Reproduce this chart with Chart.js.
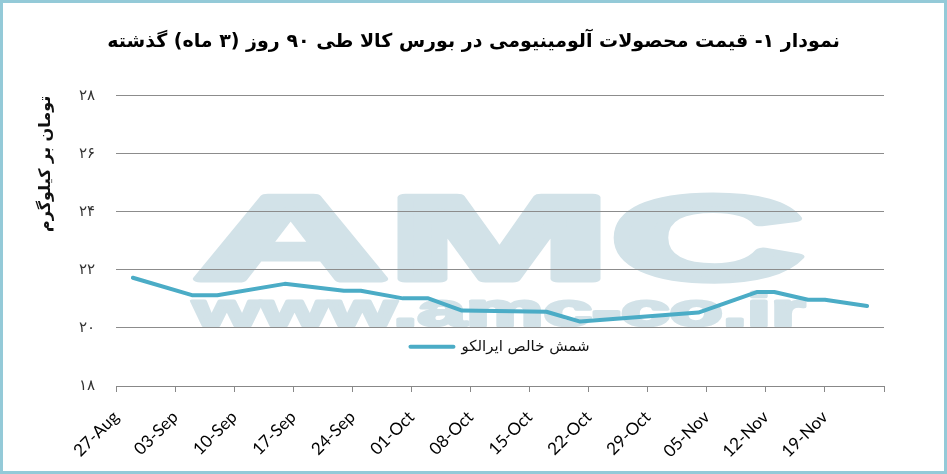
<!DOCTYPE html>
<html lang="fa">
<head>
    <meta charset="UTF-8">
    <title>قیمت محصولات آلومینیومی در بورس کالا</title>
    <script src="https://cdn.jsdelivr.net/npm/chart.js"></script>
    <style>
        html, body { margin: 0; padding: 0; background: #fff; }
        canvas { display: block; }
    </style>
</head>
<body>
    <canvas id="priceChart" width="947" height="474"></canvas>
    <script>
        // داده‌ها
        const startDate = '2018-08-27';
        const priceDates = ['2018-08-29', '2018-09-05', '2018-09-08', '2018-09-16', '2018-09-23', '2018-09-25',
            '2018-09-30', '2018-10-03', '2018-10-07', '2018-10-17', '2018-10-21', '2018-11-04',
            '2018-11-11', '2018-11-13', '2018-11-17', '2018-11-19', '2018-11-24'];
        const ingotPrices = [21.73, 21.13, 21.13, 21.52, 21.28, 21.28, 21.02, 21.02, 20.60, 20.56, 20.22, 20.53,
            21.24, 21.24, 20.97, 20.97, 20.76];
        const xTickLabels = ['27-Aug', '03-Sep', '10-Sep', '17-Sep', '24-Sep', '01-Oct', '08-Oct', '15-Oct',
            '22-Oct', '29-Oct', '05-Nov', '12-Nov', '19-Nov'];
        const yTickLabels = ['۱۸', '۲۰', '۲۲', '۲۴', '۲۶', '۲۸'];
        const chartTitle = 'نمودار ۱- قیمت محصولات آلومینیومی در بورس کالا طی ۹۰ روز (۳ ماه) گذشته';
        const yTitle = 'تومان بر کیلوگرم';
        const seriesName = 'شمش خالص ایرالکو';

        const DAY = 86400000;
        const t0 = Date.parse(startDate);
        const points = priceDates.map((d, i) => ({ x: (Date.parse(d) - t0) / DAY, y: ingotPrices[i] }));

        // متن پهن شده با خط دور برای واترمارک
        function wideText(ctx, text, size, lw, x, base, width) {
            ctx.font = 'bold ' + size + 'px "Liberation Sans"';
            const w = ctx.measureText(text).width;
            ctx.save();
            ctx.translate(x, base);
            ctx.scale(width / w, 1);
            ctx.lineWidth = lw;
            ctx.lineJoin = 'round';
            ctx.fillText(text, 0, 0);
            ctx.strokeText(text, 0, 0);
            ctx.restore();
        }

        // پس‌زمینه و واترمارک
        const watermark = {
            id: 'watermark',
            beforeDraw(chart) {
                const ctx = chart.ctx;
                ctx.save();
                ctx.fillStyle = '#fff';
                ctx.fillRect(0, 0, chart.width, chart.height);
                ctx.fillStyle = 'rgb(210, 226, 232)';
                ctx.strokeStyle = 'rgb(210, 226, 232)';
                ctx.textBaseline = 'alphabetic';
                ctx.textAlign = 'left';
                wideText(ctx, 'AMC', 119, 7, 194, 279, 610);
                wideText(ctx, 'www.amc-co.ir', 46, 3, 193, 326, 612);
                ctx.restore();
            }
        };

        // راهنما داخل نمودار
        const legendInside = {
            id: 'legendInside',
            afterDatasetsDraw(chart) {
                const { ctx, chartArea, scales } = chart;
                const ds = chart.data.datasets[0];
                ctx.save();
                ctx.font = '15px "DejaVu Sans"';
                const tw = ctx.measureText(ds.label).width;
                const lineLen = 43, gap = 8;
                const x0 = (chartArea.left + chartArea.right) / 2 - (lineLen + gap + tw) / 2;
                const y = scales.y.getPixelForValue(19.35);
                ctx.strokeStyle = ds.borderColor;
                ctx.lineWidth = 4;
                ctx.lineCap = 'round';
                ctx.beginPath();
                ctx.moveTo(x0, y);
                ctx.lineTo(x0 + lineLen, y);
                ctx.stroke();
                ctx.fillStyle = '#111';
                ctx.textAlign = 'left';
                ctx.textBaseline = 'middle';
                ctx.fillText(ds.label, x0 + lineLen + gap, y);
                ctx.restore();
            }
        };

        // قاب دور تصویر
        const frame = {
            id: 'frame',
            afterDraw(chart) {
                const ctx = chart.ctx;
                ctx.save();
                ctx.strokeStyle = '#94cad8';
                ctx.lineWidth = 3;
                ctx.strokeRect(1.5, 1.5, chart.width - 3, chart.height - 3);
                ctx.restore();
            }
        };

        const ctx = document.getElementById('priceChart').getContext('2d');
        new Chart(ctx, {
            type: 'line',
            data: {
                datasets: [{
                    label: seriesName,
                    data: points,
                    borderColor: '#4BACC6',
                    borderWidth: 4,
                    pointRadius: 0,
                    tension: 0,
                    borderCapStyle: 'round',
                    borderJoinStyle: 'round'
                }]
            },
            options: {
                responsive: false,
                animation: false,
                layout: { padding: 0 },
                plugins: {
                    legend: { display: false },
                    tooltip: { enabled: false },
                    title: {
                        display: true,
                        text: chartTitle,
                        color: '#000',
                        font: { family: 'DejaVu Sans', size: 19, weight: 'bold' },
                        padding: { top: 31, bottom: 42 }
                    }
                },
                scales: {
                    x: {
                        type: 'linear',
                        min: 0,
                        max: 91,
                        ticks: {
                            stepSize: 7,
                            autoSkip: false,
                            minRotation: 45,
                            maxRotation: 45,
                            padding: 15,
                            color: '#000',
                            font: { family: 'Lato', size: 17 },
                            callback: (v, i) => xTickLabels[i] || ''
                        },
                        grid: { drawOnChartArea: false, drawTicks: true, tickLength: 6, color: '#888' },
                        border: { display: true, color: '#888' },
                        afterFit: s => { s.height = 88; }
                    },
                    y: {
                        min: 18,
                        max: 28,
                        ticks: {
                            stepSize: 2,
                            padding: 21,
                            color: '#333',
                            font: { family: 'DejaVu Sans', size: 15 },
                            callback: (v, i) => yTickLabels[i]
                        },
                        grid: { color: '#8c8c8c', drawTicks: false },
                        border: { display: false },
                        title: {
                            display: true,
                            text: yTitle,
                            align: 'end',
                            color: '#111',
                            font: { family: 'DejaVu Sans', size: 16, weight: 'bold' },
                            padding: { top: 36, bottom: 0 }
                        },
                        afterFit: s => { s.width = 116; }
                    },
                    // محور خالی سمت راست فقط برای فاصله
                    yRight: {
                        position: 'right',
                        display: true,
                        ticks: { display: false },
                        grid: { display: false },
                        border: { display: false },
                        afterFit: s => { s.width = 63; }
                    }
                }
            },
            plugins: [watermark, legendInside, frame]
        });
    </script>
</body>
</html>
